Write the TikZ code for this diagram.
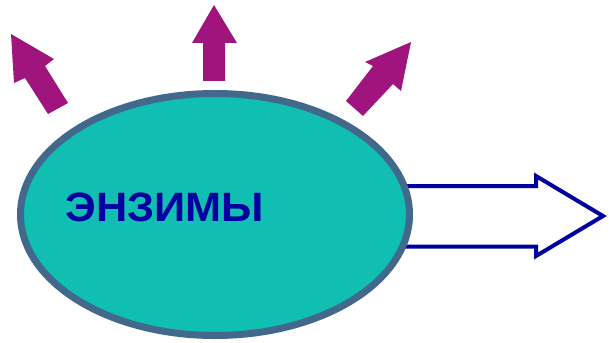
\documentclass[tikz,border=0pt]{standalone}
\usepackage{fontspec}
\setmainfont{Liberation Sans}
\usetikzlibrary{shapes.geometric}
\definecolor{tealfill}{RGB}{16,190,178}
\definecolor{slateedge}{RGB}{66,104,140}
\definecolor{magentaarrow}{RGB}{160,20,125}
\definecolor{navy}{RGB}{0,0,160}
\tikzset{
  uparrow/.style={fill=magentaarrow, draw=none},
  blockarrow/.style={draw=navy, fill=white, line width=4pt, line join=miter},
  cell/.style={ellipse, draw=slateedge, fill=tealfill, line width=7pt,
    minimum width=389pt, minimum height=242pt, inner sep=0pt},
  title/.style={font=\fontsize{41}{44}\selectfont\bfseries, text=navy,
    inner sep=0pt, xscale=1.055}
}
\begin{document}
\begin{tikzpicture}[x=1pt,y=-1pt]
  \useasboundingbox (0,0) rectangle (609,342);

  % outgoing block arrow (its tail hides behind the ellipse)
  \draw[blockarrow] (380,186) -- (536,186) -- (536,176) -- (603,216)
    -- (536,256) -- (536,246.5) -- (380,246.5) -- cycle;

  % three small arrows radiating upward
  \fill[uparrow] (11,34) -- (54,59) -- (45,66) -- (68,103) -- (48,114)
    -- (25,78) -- (14,83) -- cycle;
  \fill[uparrow] (214,5) -- (237,43) -- (225,43) -- (225,81) -- (203,81)
    -- (203,43) -- (192,43) -- cycle;
  \fill[uparrow] (411,42) -- (401,91) -- (393,84) -- (363,116) -- (346,101)
    -- (373,66) -- (365,62) -- cycle;

  % the enzyme body
  \node[cell] (body) at (215,214.5) {};
  \node[title] (label) at (165,207.5) {ЭНЗИМЫ};
\end{tikzpicture}
\end{document}
